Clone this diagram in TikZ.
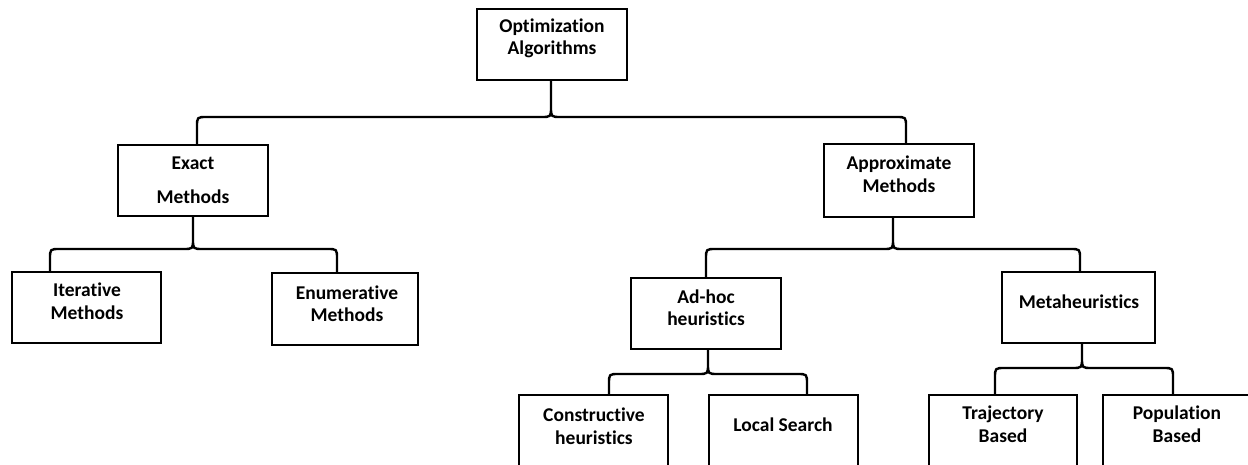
\documentclass[tikz,border=0pt]{standalone}
\usepackage{fontspec}
\setmainfont{Carlito}[Ligatures=NoCommon]
\usetikzlibrary{calc}

\tikzset{
  box/.style={draw, line width=1.3pt, inner sep=0pt, minimum width=#1},
  box/.default=150pt,
  lbl/.style={align=center, inner sep=0pt, font=\bfseries\fontsize{19.5}{22.5}\selectfont},
  fork/.style={line width=2.4pt, line join=round},
}

% Bracket-shaped connector: parent point #1, left child point #2,
% right child point #3, horizontal bar at height #4 (picture units, y down)
\newcommand\forklink[4]{%
  \draw[fork] let \p1=(#1), \p2=(#2), \p3=(#3) in
    (\x2,\y2) -- (\x2,{-#4pt-10pt}) .. controls (\x2,{-#4pt}) .. ({\x2+10pt},{-#4pt})
    -- ({\x1-10pt},{-#4pt}) .. controls (\x1,{-#4pt}) .. (\x1,{-#4pt+10pt}) -- (\x1,\y1)
    (\x3,\y3) -- (\x3,{-#4pt-10pt}) .. controls (\x3,{-#4pt}) .. ({\x3-10pt},{-#4pt})
    -- ({\x1+10pt},{-#4pt}) .. controls (\x1,{-#4pt}) .. (\x1,{-#4pt+10pt});
}

\begin{document}
\begin{tikzpicture}[x=1pt, y=-1pt]
\useasboundingbox (0,0) rectangle (1248,465);
\clip (0,0) rectangle (1248,465);

% boxes
\node[box, minimum height=71pt] (root) at (552,44.5) {};
\node[box, minimum height=71pt] (exact) at (193,180.5) {};
\node[box, minimum height=73pt] (approx) at (899,180.5) {};
\node[box=149pt, minimum height=71pt] (iter) at (86.5,307.5) {};
\node[box=146pt, minimum height=72pt] (enum) at (345,309) {};
\node[box, minimum height=71pt] (adhoc) at (706,313.5) {};
\node[box=153pt, minimum height=71pt] (meta) at (1078.5,307.5) {};
\node[box=149pt, minimum height=80pt] (constr) at (593.5,435) {};
\node[box=149pt, minimum height=80pt] (local) at (783.5,435) {};
\node[box=148pt, minimum height=80pt] (traj) at (1003,435) {};
\node[box=148pt, minimum height=80pt] (popul) at (1177,435) {};

% labels
\node[lbl] (rootT) at (552,38.5) {Optimization\\Algorithms};
\node[lbl, font=\bfseries\fontsize{19.5}{34}\selectfont] (exactT) at (193,180) {Exact\\Methods};
\node[lbl] (approxT) at (899,174) {Approximate\\Methods};
\node[lbl] (iterT) at (87,301) {Iterative\\Methods};
\node[lbl] (enumT) at (347,303.5) {Enumerative\\Methods};
\node[lbl] (adhocT) at (706,307.5) {Ad-hoc\\heuristics};
\node[lbl] (metaT) at (1079,302) {Metaheuristics};
\node[lbl] (constrT) at (594,426) {Constructive\\heuristics};
\node[lbl] (localT) at (783,425) {Local Search};
\node[lbl] (trajT) at (1003,424) {Trajectory\\Based};
\node[lbl] (populT) at (1177,424) {Population\\Based};

% connectors
\forklink{[xshift=-1pt]root.south}{[xshift=4pt]exact.north}{[xshift=7pt]approx.north}{117}
\forklink{exact.south}{[xshift=-36.5pt]iter.north}{[xshift=-8pt]enum.north}{249}
\forklink{[xshift=-6pt]approx.south}{adhoc.north}{[xshift=1.5pt]meta.north}{249}
\forklink{[xshift=2pt]adhoc.south}{[xshift=15.5pt]constr.north}{[xshift=23.5pt]local.north}{374}
\forklink{[xshift=3.5pt]meta.south}{[xshift=-8pt]traj.north}{[xshift=-4pt]popul.north}{368}
\end{tikzpicture}
\end{document}
